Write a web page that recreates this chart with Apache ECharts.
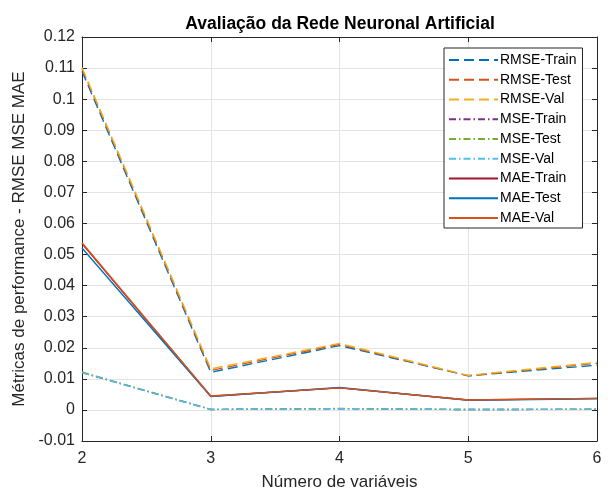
<!DOCTYPE html>
<html><head><meta charset="utf-8">
<script src="https://cdn.jsdelivr.net/npm/echarts@6/dist/echarts.min.js"></script>
<style>html,body{margin:0;padding:0;background:#fff}#c{width:614px;height:496px}</style>
</head><body><div id="c"></div>
<script>
const xVals = [2, 3, 4, 5, 6];
const seriesNames = ['RMSE-Train','RMSE-Test','RMSE-Val','MSE-Train','MSE-Test','MSE-Val','MAE-Train','MAE-Test','MAE-Val'];
const rmseTrain = [0.1090, 0.0121, 0.0207, 0.0110, 0.0144];
const rmseTest  = [0.1098, 0.0127, 0.0211, 0.0110, 0.0150];
const rmseVal   = [0.1102, 0.0132, 0.0214, 0.0111, 0.0153];
const mseTrain  = [0.0120, 0.00015, 0.0004, 0.00012, 0.0002];
const mseTest   = [0.0122, 0.00016, 0.00045, 0.00012, 0.00023];
const mseVal    = [0.0120, 0.00015, 0.0004, 0.00012, 0.0002];
const maeTrain  = [0.0535, 0.0044, 0.0071, 0.0032, 0.0037];
const maeTest   = [0.0521, 0.0043, 0.0072, 0.0031, 0.0036];
const maeVal    = [0.0538, 0.0045, 0.0071, 0.0032, 0.0037];

const allData = [rmseTrain, rmseTest, rmseVal, mseTrain, mseTest, mseVal, maeTrain, maeTest, maeVal];
const colors = ['#0072BD','#D95319','#EDB120','#7E2F8E','#77AC30','#4DBEEE','#A2142F','#0072BD','#D95319'];
const dash = [10, 5];
const dashDot = [7, 3, 1.5, 3];
const styles = [dash, dash, dash, dashDot, dashDot, dashDot, 'solid', 'solid', 'solid'];

const font = 'Liberation Sans, Arial, sans-serif';
const series = seriesNames.map((n, i) => ({
  name: n, type: 'line', symbol: 'none', animation: false,
  data: xVals.map((x, j) => [x, allData[i][j]]),
  lineStyle: { color: colors[i], width: 1.4, type: styles[i] },
  itemStyle: { color: colors[i] }
}));

const axisColor = '#262626';
const chart = echarts.init(document.getElementById('c'), null, {renderer: 'canvas'});
chart.setOption({
  backgroundColor: '#fff',
  title: {
    text: 'Avaliação da Rede Neuronal Artificial',
    left: 335, top: 10, textAlign: 'center',
    textStyle: { fontFamily: font, fontSize: 17.5, fontWeight: 'bold', color: '#000' }
  },
  grid: { left: 82, right: 17, top: 37, bottom: 54 },
  legend: {
    orient: 'vertical', left: 444, top: 48,
    backgroundColor: '#fff', borderColor: axisColor, borderWidth: 1,
    padding: [5, 6, 3, 4], itemGap: 5.75, itemWidth: 49, itemHeight: 14,
    itemStyle: { opacity: 0 },
    textStyle: { fontFamily: font, fontSize: 14, color: '#000', padding: [0, 0, 0, -3] },
    data: seriesNames
  },
  xAxis: [{
    type: 'value', min: 2, max: 6, interval: 1, position: 'bottom',
    name: 'Número de variáveis', nameLocation: 'middle', nameGap: 33,
    nameTextStyle: { fontFamily: font, fontSize: 17, color: axisColor },
    axisLine: { show: true, onZero: false, lineStyle: { color: axisColor, width: 1 } },
    axisTick: { show: true, inside: true, length: 5, lineStyle: { color: axisColor } },
    axisLabel: { fontFamily: font, fontSize: 16, color: axisColor, margin: 10 },
    splitLine: { show: true, lineStyle: { color: '#e3e3e3', width: 1 } }
  }, {
    type: 'value', min: 2, max: 6, interval: 1, position: 'top',
    axisLine: { show: true, onZero: false, lineStyle: { color: axisColor, width: 1 } },
    axisTick: { show: true, inside: true, length: 5, lineStyle: { color: axisColor } },
    axisLabel: { show: false }, splitLine: { show: false }
  }],
  yAxis: [{
    type: 'value', min: -0.01, max: 0.12, interval: 0.01, position: 'left',
    name: 'Métricas de performance - RMSE MSE MAE', nameLocation: 'middle', nameGap: 50,
    nameTextStyle: { fontFamily: font, fontSize: 17, color: axisColor },
    axisLine: { show: true, onZero: false, lineStyle: { color: axisColor, width: 1 } },
    axisTick: { show: true, inside: true, length: 5, lineStyle: { color: axisColor } },
    axisLabel: { fontFamily: font, fontSize: 16, color: axisColor, margin: 7,
      formatter: v => String(Math.round(v * 100) / 100) },
    splitLine: { show: true, lineStyle: { color: '#e3e3e3', width: 1 } }
  }, {
    type: 'value', min: -0.01, max: 0.12, interval: 0.01, position: 'right',
    axisLine: { show: true, onZero: false, lineStyle: { color: axisColor, width: 1 } },
    axisTick: { show: true, inside: true, length: 5, lineStyle: { color: axisColor } },
    axisLabel: { show: false }, splitLine: { show: false }
  }],
  series: series
});
</script></body></html>
